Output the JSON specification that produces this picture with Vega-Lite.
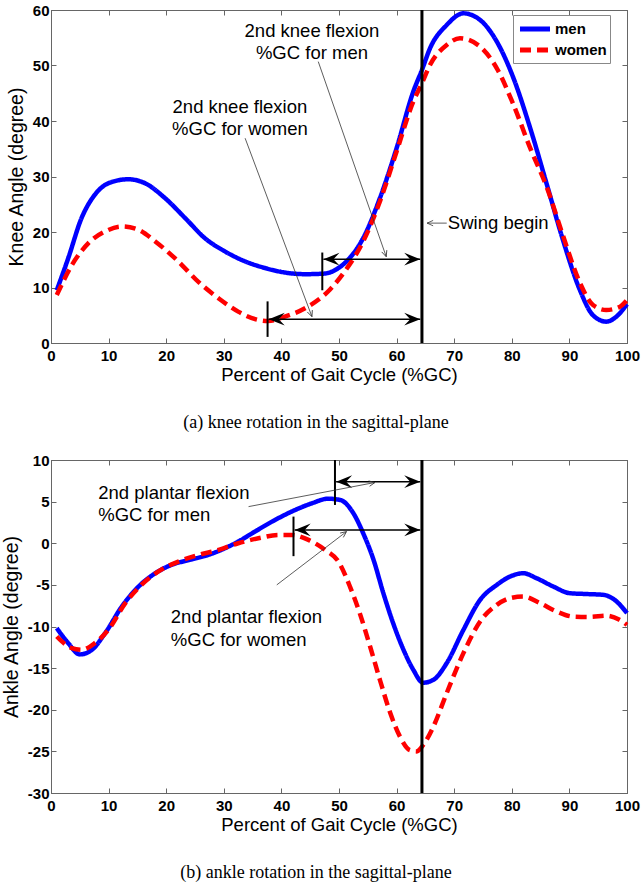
{
  "$schema": "https://vega.github.io/schema/vega-lite/v6.json",
  "background": "white",
  "padding": {"left": 0, "top": 2, "right": 0, "bottom": 0},
  "spacing": 20,
  "config": {
    "view": {"stroke": "#666", "strokeWidth": 1},
    "axis": {
      "grid": false,
      "tickSize": -5,
      "tickColor": "#666",
      "domainColor": "#666",
      "labelFlush": false,
      "labelOverlap": false,
      "labelFont": "Liberation Sans",
      "labelFontWeight": "bold",
      "labelFontSize": 15,
      "labelColor": "black",
      "labelExpr": "'' + datum.value",
      "titleFont": "Liberation Sans",
      "titleFontWeight": "normal",
      "titleFontSize": 19.5,
      "titleColor": "black"
    },
    "legend": {
      "fillColor": "white",
      "strokeColor": "#888",
      "padding": 3,
      "symbolType": "M-0.824,0L2.706,0",
      "symbolSize": 289,
      "symbolStrokeWidth": 5,
      "labelFont": "Liberation Sans",
      "labelFontWeight": "bold",
      "labelFontSize": 15,
      "labelColor": "black",
      "labelOffset": 17,
      "rowPadding": 0
    },
    "text": {"font": "Liberation Sans", "fontSize": 18.5, "color": "black"}
  },
  "datasets": {
    "knee": [
      {"pct": 1, "angle": 9.5, "sex": "men"}, {"pct": 3, "angle": 15.3, "sex": "men"}, {"pct": 5.3, "angle": 22.5, "sex": "men"}, {"pct": 7.6, "angle": 26.7, "sex": "men"}, {"pct": 10, "angle": 28.8, "sex": "men"}, {"pct": 13.4, "angle": 29.5, "sex": "men"}, {"pct": 16.3, "angle": 28.8, "sex": "men"}, {"pct": 19.8, "angle": 26.1, "sex": "men"}, {"pct": 23.3, "angle": 22.5, "sex": "men"}, {"pct": 26.7, "angle": 18.9, "sex": "men"}, {"pct": 30.2, "angle": 16.5, "sex": "men"}, {"pct": 33.7, "angle": 14.7, "sex": "men"}, {"pct": 37.2, "angle": 13.5, "sex": "men"}, {"pct": 40.6, "angle": 12.7, "sex": "men"}, {"pct": 44.1, "angle": 12.4, "sex": "men"}, {"pct": 47.4, "angle": 12.5, "sex": "men"}, {"pct": 49.6, "angle": 13.3, "sex": "men"}, {"pct": 51.3, "angle": 14.7, "sex": "men"}, {"pct": 54.2, "angle": 18.9, "sex": "men"}, {"pct": 57.1, "angle": 26.1, "sex": "men"}, {"pct": 60, "angle": 35.1, "sex": "men"}, {"pct": 62.9, "angle": 45.3, "sex": "men"}, {"pct": 64.4, "angle": 49.2, "sex": "men"}, {"pct": 65.8, "angle": 53.1, "sex": "men"}, {"pct": 68.7, "angle": 57.3, "sex": "men"}, {"pct": 71.6, "angle": 59.4, "sex": "men"}, {"pct": 74.5, "angle": 58.2, "sex": "men"}, {"pct": 77.4, "angle": 54.3, "sex": "men"}, {"pct": 80.3, "angle": 47.7, "sex": "men"}, {"pct": 83.2, "angle": 38.7, "sex": "men"}, {"pct": 86.1, "angle": 28.5, "sex": "men"}, {"pct": 88.9, "angle": 18.5, "sex": "men"}, {"pct": 91.8, "angle": 9.6, "sex": "men"}, {"pct": 94.1, "angle": 5.0, "sex": "men"}, {"pct": 96.4, "angle": 3.85, "sex": "men"}, {"pct": 98.1, "angle": 4.7, "sex": "men"}, {"pct": 100, "angle": 7.0, "sex": "men"},
      {"pct": 1, "angle": 8.65, "sex": "women"}, {"pct": 3.6, "angle": 14.0, "sex": "women"}, {"pct": 6.5, "angle": 18.0, "sex": "women"}, {"pct": 9.4, "angle": 20.1, "sex": "women"}, {"pct": 12.3, "angle": 21.0, "sex": "women"}, {"pct": 15.2, "angle": 20.4, "sex": "women"}, {"pct": 18.1, "angle": 18.3, "sex": "women"}, {"pct": 22.1, "angle": 14.7, "sex": "women"}, {"pct": 25.6, "angle": 11.0, "sex": "women"}, {"pct": 29.1, "angle": 8.05, "sex": "women"}, {"pct": 32.5, "angle": 5.65, "sex": "women"}, {"pct": 36, "angle": 4.15, "sex": "women"}, {"pct": 37.7, "angle": 3.96, "sex": "women"}, {"pct": 40.6, "angle": 4.75, "sex": "women"}, {"pct": 44.1, "angle": 6.25, "sex": "women"}, {"pct": 48.4, "angle": 9.6, "sex": "women"}, {"pct": 51.2, "angle": 13.2, "sex": "women"}, {"pct": 54.2, "angle": 18.3, "sex": "women"}, {"pct": 57.1, "angle": 25.5, "sex": "women"}, {"pct": 60, "angle": 34.5, "sex": "women"}, {"pct": 62.9, "angle": 43.5, "sex": "women"}, {"pct": 64.4, "angle": 46.8, "sex": "women"}, {"pct": 65.8, "angle": 50.1, "sex": "women"}, {"pct": 68.7, "angle": 53.7, "sex": "women"}, {"pct": 71, "angle": 54.9, "sex": "women"}, {"pct": 74.5, "angle": 53.4, "sex": "women"}, {"pct": 77.4, "angle": 49.5, "sex": "women"}, {"pct": 80.3, "angle": 42.9, "sex": "women"}, {"pct": 83.2, "angle": 35.1, "sex": "women"}, {"pct": 86.1, "angle": 28.0, "sex": "women"}, {"pct": 88.9, "angle": 19.3, "sex": "women"}, {"pct": 91.8, "angle": 10.9, "sex": "women"}, {"pct": 94.1, "angle": 6.85, "sex": "women"}, {"pct": 96.4, "angle": 5.95, "sex": "women"}, {"pct": 98.7, "angle": 6.5, "sex": "women"}, {"pct": 100, "angle": 7.75, "sex": "women"}
    ],
    "ankle": [
      {"pct": 1, "angle": -10.2, "sex": "men"}, {"pct": 3, "angle": -12.0, "sex": "men"}, {"pct": 5, "angle": -13.35, "sex": "men"}, {"pct": 7.1, "angle": -12.8, "sex": "men"}, {"pct": 9.4, "angle": -10.8, "sex": "men"}, {"pct": 12.3, "angle": -7.6, "sex": "men"}, {"pct": 15.2, "angle": -5.2, "sex": "men"}, {"pct": 18.1, "angle": -3.6, "sex": "men"}, {"pct": 20.9, "angle": -2.6, "sex": "men"}, {"pct": 24.4, "angle": -1.95, "sex": "men"}, {"pct": 27.3, "angle": -1.4, "sex": "men"}, {"pct": 30.2, "angle": -0.6, "sex": "men"}, {"pct": 32.5, "angle": 0.2, "sex": "men"}, {"pct": 35.4, "angle": 1.4, "sex": "men"}, {"pct": 38.9, "angle": 2.8, "sex": "men"}, {"pct": 42.4, "angle": 4.0, "sex": "men"}, {"pct": 45.3, "angle": 4.8, "sex": "men"}, {"pct": 48.1, "angle": 5.35, "sex": "men"}, {"pct": 50.2, "angle": 5.2, "sex": "men"}, {"pct": 52.5, "angle": 3.6, "sex": "men"}, {"pct": 54.2, "angle": 1.2, "sex": "men"}, {"pct": 56, "angle": -2.0, "sex": "men"}, {"pct": 57.7, "angle": -6.0, "sex": "men"}, {"pct": 59.4, "angle": -9.6, "sex": "men"}, {"pct": 61.2, "angle": -12.8, "sex": "men"}, {"pct": 62.9, "angle": -15.2, "sex": "men"}, {"pct": 64.6, "angle": -16.75, "sex": "men"}, {"pct": 66.4, "angle": -16.4, "sex": "men"}, {"pct": 68.7, "angle": -14.4, "sex": "men"}, {"pct": 71.6, "angle": -10.4, "sex": "men"}, {"pct": 74.5, "angle": -6.8, "sex": "men"}, {"pct": 77.4, "angle": -5.0, "sex": "men"}, {"pct": 79.7, "angle": -4.0, "sex": "men"}, {"pct": 82, "angle": -3.6, "sex": "men"}, {"pct": 84.3, "angle": -4.2, "sex": "men"}, {"pct": 87.2, "angle": -5.2, "sex": "men"}, {"pct": 90.1, "angle": -6.0, "sex": "men"}, {"pct": 93, "angle": -6.1, "sex": "men"}, {"pct": 95.9, "angle": -6.2, "sex": "men"}, {"pct": 98.2, "angle": -7.0, "sex": "men"}, {"pct": 100, "angle": -8.4, "sex": "men"},
      {"pct": 1, "angle": -11.2, "sex": "women"}, {"pct": 3.6, "angle": -12.6, "sex": "women"}, {"pct": 5.3, "angle": -12.8, "sex": "women"}, {"pct": 7.6, "angle": -12.0, "sex": "women"}, {"pct": 9.95, "angle": -10.4, "sex": "women"}, {"pct": 12.9, "angle": -7.2, "sex": "women"}, {"pct": 15.7, "angle": -5.0, "sex": "women"}, {"pct": 18.6, "angle": -3.4, "sex": "women"}, {"pct": 22.1, "angle": -2.2, "sex": "women"}, {"pct": 25.6, "angle": -1.4, "sex": "women"}, {"pct": 29.1, "angle": -0.8, "sex": "women"}, {"pct": 32.5, "angle": 0.0, "sex": "women"}, {"pct": 36, "angle": 0.6, "sex": "women"}, {"pct": 39.5, "angle": 1.0, "sex": "women"}, {"pct": 41.8, "angle": 1.0, "sex": "women"}, {"pct": 44.7, "angle": 0.4, "sex": "women"}, {"pct": 47.6, "angle": -0.8, "sex": "women"}, {"pct": 49.9, "angle": -2.2, "sex": "women"}, {"pct": 51.9, "angle": -5.2, "sex": "women"}, {"pct": 53.6, "angle": -8.4, "sex": "women"}, {"pct": 55.4, "angle": -12.4, "sex": "women"}, {"pct": 57.1, "angle": -16.4, "sex": "women"}, {"pct": 58.9, "angle": -20.4, "sex": "women"}, {"pct": 60.6, "angle": -23.25, "sex": "women"}, {"pct": 62.3, "angle": -24.85, "sex": "women"}, {"pct": 63.5, "angle": -25.0, "sex": "women"}, {"pct": 64.6, "angle": -24.25, "sex": "women"}, {"pct": 66.4, "angle": -22.0, "sex": "women"}, {"pct": 68.7, "angle": -18.0, "sex": "women"}, {"pct": 71.6, "angle": -13.2, "sex": "women"}, {"pct": 74.5, "angle": -9.4, "sex": "women"}, {"pct": 77.4, "angle": -7.4, "sex": "women"}, {"pct": 79.7, "angle": -6.6, "sex": "women"}, {"pct": 82, "angle": -6.4, "sex": "women"}, {"pct": 84.9, "angle": -7.2, "sex": "women"}, {"pct": 87.8, "angle": -8.2, "sex": "women"}, {"pct": 90.6, "angle": -8.8, "sex": "women"}, {"pct": 93.6, "angle": -8.85, "sex": "women"}, {"pct": 96.4, "angle": -8.7, "sex": "women"}, {"pct": 98.7, "angle": -9.2, "sex": "women"}, {"pct": 100, "angle": -9.8, "sex": "women"}
    ]
  },
  "vconcat": [
    {
      "width": 576,
      "height": 333,
      "title": {"text": "(a) knee rotation in the sagittal-plane", "orient": "bottom", "anchor": "middle", "dx": -23, "offset": 30, "font": "Liberation Serif", "fontSize": 18, "fontWeight": "normal", "color": "black"},
      "resolve": {"axis": {"x": "independent", "y": "independent"}},
      "layer": [
        {
          "layer": [
            {
              "data": {"name": "knee"},
              "mark": {"type": "line", "strokeWidth": 4.5, "interpolate": "monotone"},
              "encoding": {
                "x": {"field": "pct", "type": "quantitative", "scale": {"domain": [0, 100], "nice": false, "zero": false}, "axis": {"orient": "bottom", "title": "Percent of Gait Cycle (%GC)", "titleFontSize": 18.5, "values": [0, 10, 20, 30, 40, 50, 60, 70, 80, 90, 100], "labelPadding": 10, "titlePadding": 2}},
                "y": {"field": "angle", "type": "quantitative", "scale": {"domain": [0, 60], "nice": false, "zero": false}, "axis": {"orient": "left", "title": "Knee Angle (degree)", "values": [0, 10, 20, 30, 40, 50, 60], "labelPadding": 7, "titlePadding": 6}},
                "color": {"field": "sex", "type": "nominal", "scale": {"domain": ["men", "women"], "range": ["#0000ff", "#ff0000"]}, "legend": {"title": null, "orient": "none", "legendX": 462, "legendY": 5}},
                "strokeDash": {"field": "sex", "type": "nominal", "scale": {"domain": ["men", "women"], "range": [[1, 0], [11, 6]]}, "legend": {"title": null, "orient": "none", "legendX": 462, "legendY": 5}}
              }
            },
            {
              "data": {"values": [{"pct": 64.4}]},
              "mark": {"type": "rule", "color": "black", "strokeWidth": 3},
              "encoding": {"x": {"field": "pct", "type": "quantitative"}}
            },
            {
              "data": {"values": [{"pct": 47.1, "lo": 9.5, "hi": 16.3}, {"pct": 37.6, "lo": 1.1, "hi": 7.5}]},
              "mark": {"type": "rule", "color": "black", "strokeWidth": 2},
              "encoding": {"x": {"field": "pct", "type": "quantitative"}, "y": {"field": "lo", "type": "quantitative"}, "y2": {"field": "hi"}}
            },
            {
              "data": {"values": [{"start": 47.3, "end": 64.1, "level": 15.1}, {"start": 37.8, "end": 64.1, "level": 4.3}]},
              "layer": [
                {"mark": {"type": "rule", "color": "black", "strokeWidth": 1.5}, "encoding": {"x": {"field": "start", "type": "quantitative"}, "x2": {"field": "end"}, "y": {"field": "level", "type": "quantitative"}}},
                {"mark": {"type": "point", "shape": "M0,0L2,-0.8L1.25,0L2,0.8Z", "filled": true, "color": "black", "opacity": 1, "size": 256}, "encoding": {"x": {"field": "start", "type": "quantitative"}, "y": {"field": "level", "type": "quantitative"}}},
                {"mark": {"type": "point", "shape": "M0,0L-2,-0.8L-1.25,0L-2,0.8Z", "filled": true, "color": "black", "opacity": 1, "size": 256}, "encoding": {"x": {"field": "end", "type": "quantitative"}, "y": {"field": "level", "type": "quantitative"}}}
              ]
            },
            {
              "data": {"values": [{"x1": 46.4, "y1": 50.7, "x2": 58.2, "y2": 15.55}, {"x1": 33.7, "y1": 36.9, "x2": 45.3, "y2": 4.75}, {"x1": 65.3, "y1": 21.6, "x2": 68.7, "y2": 21.6}]},
              "mark": {"type": "rule", "color": "#333", "strokeWidth": 0.8},
              "encoding": {"x": {"field": "x1", "type": "quantitative"}, "y": {"field": "y1", "type": "quantitative"}, "x2": {"field": "x2"}, "y2": {"field": "y2"}}
            },
            {
              "data": {"values": [{"x": 58.2, "y": 15.55}]},
              "mark": {"type": "point", "shape": "M-2,-0.9L0,0L-2,0.9", "filled": false, "color": "#333", "strokeWidth": 0.8, "opacity": 1, "size": 36, "angle": 70.8},
              "encoding": {"x": {"field": "x", "type": "quantitative"}, "y": {"field": "y", "type": "quantitative"}}
            },
            {
              "data": {"values": [{"x": 45.3, "y": 4.75}]},
              "mark": {"type": "point", "shape": "M-2,-0.9L0,0L-2,0.9", "filled": false, "color": "#333", "strokeWidth": 0.8, "opacity": 1, "size": 36, "angle": 69.5},
              "encoding": {"x": {"field": "x", "type": "quantitative"}, "y": {"field": "y", "type": "quantitative"}}
            },
            {
              "data": {"values": [{"x": 65.3, "y": 21.6}]},
              "mark": {"type": "point", "shape": "M-2,-0.9L0,0L-2,0.9", "filled": false, "color": "#333", "strokeWidth": 0.8, "opacity": 1, "size": 36, "angle": 180},
              "encoding": {"x": {"field": "x", "type": "quantitative"}, "y": {"field": "y", "type": "quantitative"}}
            },
            {
              "data": {"values": [{"pct": 45.3, "angle": 55.2, "label": "2nd knee flexion\n%GC for men"}, {"pct": 32.8, "angle": 41.4, "label": "2nd knee flexion\n%GC for women"}]},
              "mark": {"type": "text", "align": "center", "baseline": "alphabetic", "lineBreak": "\n", "lineHeight": 22},
              "encoding": {"x": {"field": "pct", "type": "quantitative"}, "y": {"field": "angle", "type": "quantitative"}, "text": {"field": "label"}}
            },
            {
              "data": {"values": [{"pct": 68.9, "angle": 21.6, "label": "Swing begin"}]},
              "mark": {"type": "text", "align": "left", "baseline": "middle"},
              "encoding": {"x": {"field": "pct", "type": "quantitative"}, "y": {"field": "angle", "type": "quantitative"}, "text": {"field": "label"}}
            }
          ]
        },
        {
          "data": {"name": "knee"},
          "mark": {"type": "point", "opacity": 0},
          "encoding": {
            "x": {"field": "pct", "type": "quantitative", "axis": {"orient": "top", "labels": false, "title": null, "values": [0, 10, 20, 30, 40, 50, 60, 70, 80, 90, 100]}},
            "y": {"field": "angle", "type": "quantitative", "axis": {"orient": "right", "labels": false, "title": null, "values": [0, 10, 20, 30, 40, 50, 60]}}
          }
        }
      ]
    },
    {
      "width": 576,
      "height": 333,
      "title": {"text": "(b) ankle rotation in the sagittal-plane", "orient": "bottom", "anchor": "middle", "dx": -23, "offset": 30, "font": "Liberation Serif", "fontSize": 18, "fontWeight": "normal", "color": "black"},
      "resolve": {"axis": {"x": "independent", "y": "independent"}},
      "layer": [
        {
          "layer": [
            {
              "data": {"name": "ankle"},
              "mark": {"type": "line", "strokeWidth": 4.5, "interpolate": "monotone"},
              "encoding": {
                "x": {"field": "pct", "type": "quantitative", "scale": {"domain": [0, 100], "nice": false, "zero": false}, "axis": {"orient": "bottom", "title": "Percent of Gait Cycle (%GC)", "titleFontSize": 18.5, "values": [0, 10, 20, 30, 40, 50, 60, 70, 80, 90, 100], "labelPadding": 10, "titlePadding": 2}},
                "y": {"field": "angle", "type": "quantitative", "scale": {"domain": [-30, 10], "nice": false, "zero": false}, "axis": {"orient": "left", "title": "Ankle Angle (degree)", "values": [-30, -25, -20, -15, -10, -5, 0, 5, 10], "labelPadding": 7, "titlePadding": 6}},
                "color": {"field": "sex", "type": "nominal", "scale": {"domain": ["men", "women"], "range": ["#0000ff", "#ff0000"]}, "legend": {"title": null, "orient": "none", "legendX": 464, "legendY": 5}},
                "strokeDash": {"field": "sex", "type": "nominal", "scale": {"domain": ["men", "women"], "range": [[1, 0], [11, 6]]}, "legend": {"title": null, "orient": "none", "legendX": 464, "legendY": 5}}
              }
            },
            {
              "data": {"values": [{"pct": 64.4}]},
              "mark": {"type": "rule", "color": "black", "strokeWidth": 3},
              "encoding": {"x": {"field": "pct", "type": "quantitative"}}
            },
            {
              "data": {"values": [{"pct": 49.3, "lo": 4.6, "hi": 10}, {"pct": 42.1, "lo": -1.55, "hi": 3.2}]},
              "mark": {"type": "rule", "color": "black", "strokeWidth": 2},
              "encoding": {"x": {"field": "pct", "type": "quantitative"}, "y": {"field": "lo", "type": "quantitative"}, "y2": {"field": "hi"}}
            },
            {
              "data": {"values": [{"start": 49.5, "end": 64.1, "level": 7.4}, {"start": 42.3, "end": 64.1, "level": 1.6}]},
              "layer": [
                {"mark": {"type": "rule", "color": "black", "strokeWidth": 1.5}, "encoding": {"x": {"field": "start", "type": "quantitative"}, "x2": {"field": "end"}, "y": {"field": "level", "type": "quantitative"}}},
                {"mark": {"type": "point", "shape": "M0,0L2,-0.8L1.25,0L2,0.8Z", "filled": true, "color": "black", "opacity": 1, "size": 256}, "encoding": {"x": {"field": "start", "type": "quantitative"}, "y": {"field": "level", "type": "quantitative"}}},
                {"mark": {"type": "point", "shape": "M0,0L-2,-0.8L-1.25,0L-2,0.8Z", "filled": true, "color": "black", "opacity": 1, "size": 256}, "encoding": {"x": {"field": "end", "type": "quantitative"}, "y": {"field": "level", "type": "quantitative"}}}
              ]
            },
            {
              "data": {"values": [{"x1": 34.3, "y1": 4.4, "x2": 56.25, "y2": 7.3}, {"x1": 39.2, "y1": -5.0, "x2": 51.3, "y2": 1.4}]},
              "mark": {"type": "rule", "color": "#333", "strokeWidth": 0.8},
              "encoding": {"x": {"field": "x1", "type": "quantitative"}, "y": {"field": "y1", "type": "quantitative"}, "x2": {"field": "x2"}, "y2": {"field": "y2"}}
            },
            {
              "data": {"values": [{"x": 56.25, "y": 7.3}]},
              "mark": {"type": "point", "shape": "M-2,-0.9L0,0L-2,0.9", "filled": false, "color": "#333", "strokeWidth": 0.8, "opacity": 1, "size": 36, "angle": -10.8},
              "encoding": {"x": {"field": "x", "type": "quantitative"}, "y": {"field": "y", "type": "quantitative"}}
            },
            {
              "data": {"values": [{"x": 51.3, "y": 1.4}]},
              "mark": {"type": "point", "shape": "M-2,-0.9L0,0L-2,0.9", "filled": false, "color": "#333", "strokeWidth": 0.8, "opacity": 1, "size": 36, "angle": -37.3},
              "encoding": {"x": {"field": "x", "type": "quantitative"}, "y": {"field": "y", "type": "quantitative"}}
            },
            {
              "data": {"values": [{"pct": 8.2, "angle": 5.34, "label": "2nd plantar flexion\n%GC for men"}, {"pct": 20.8, "angle": -9.6, "label": "2nd plantar flexion\n%GC for women"}]},
              "mark": {"type": "text", "align": "left", "baseline": "alphabetic", "lineBreak": "\n", "lineHeight": 22.5},
              "encoding": {"x": {"field": "pct", "type": "quantitative"}, "y": {"field": "angle", "type": "quantitative"}, "text": {"field": "label"}}
            }
          ]
        },
        {
          "data": {"name": "ankle"},
          "mark": {"type": "point", "opacity": 0},
          "encoding": {
            "x": {"field": "pct", "type": "quantitative", "axis": {"orient": "top", "labels": false, "title": null, "values": [0, 10, 20, 30, 40, 50, 60, 70, 80, 90, 100]}},
            "y": {"field": "angle", "type": "quantitative", "axis": {"orient": "right", "labels": false, "title": null, "values": [-30, -25, -20, -15, -10, -5, 0, 5, 10]}}
          }
        }
      ]
    }
  ]
}
